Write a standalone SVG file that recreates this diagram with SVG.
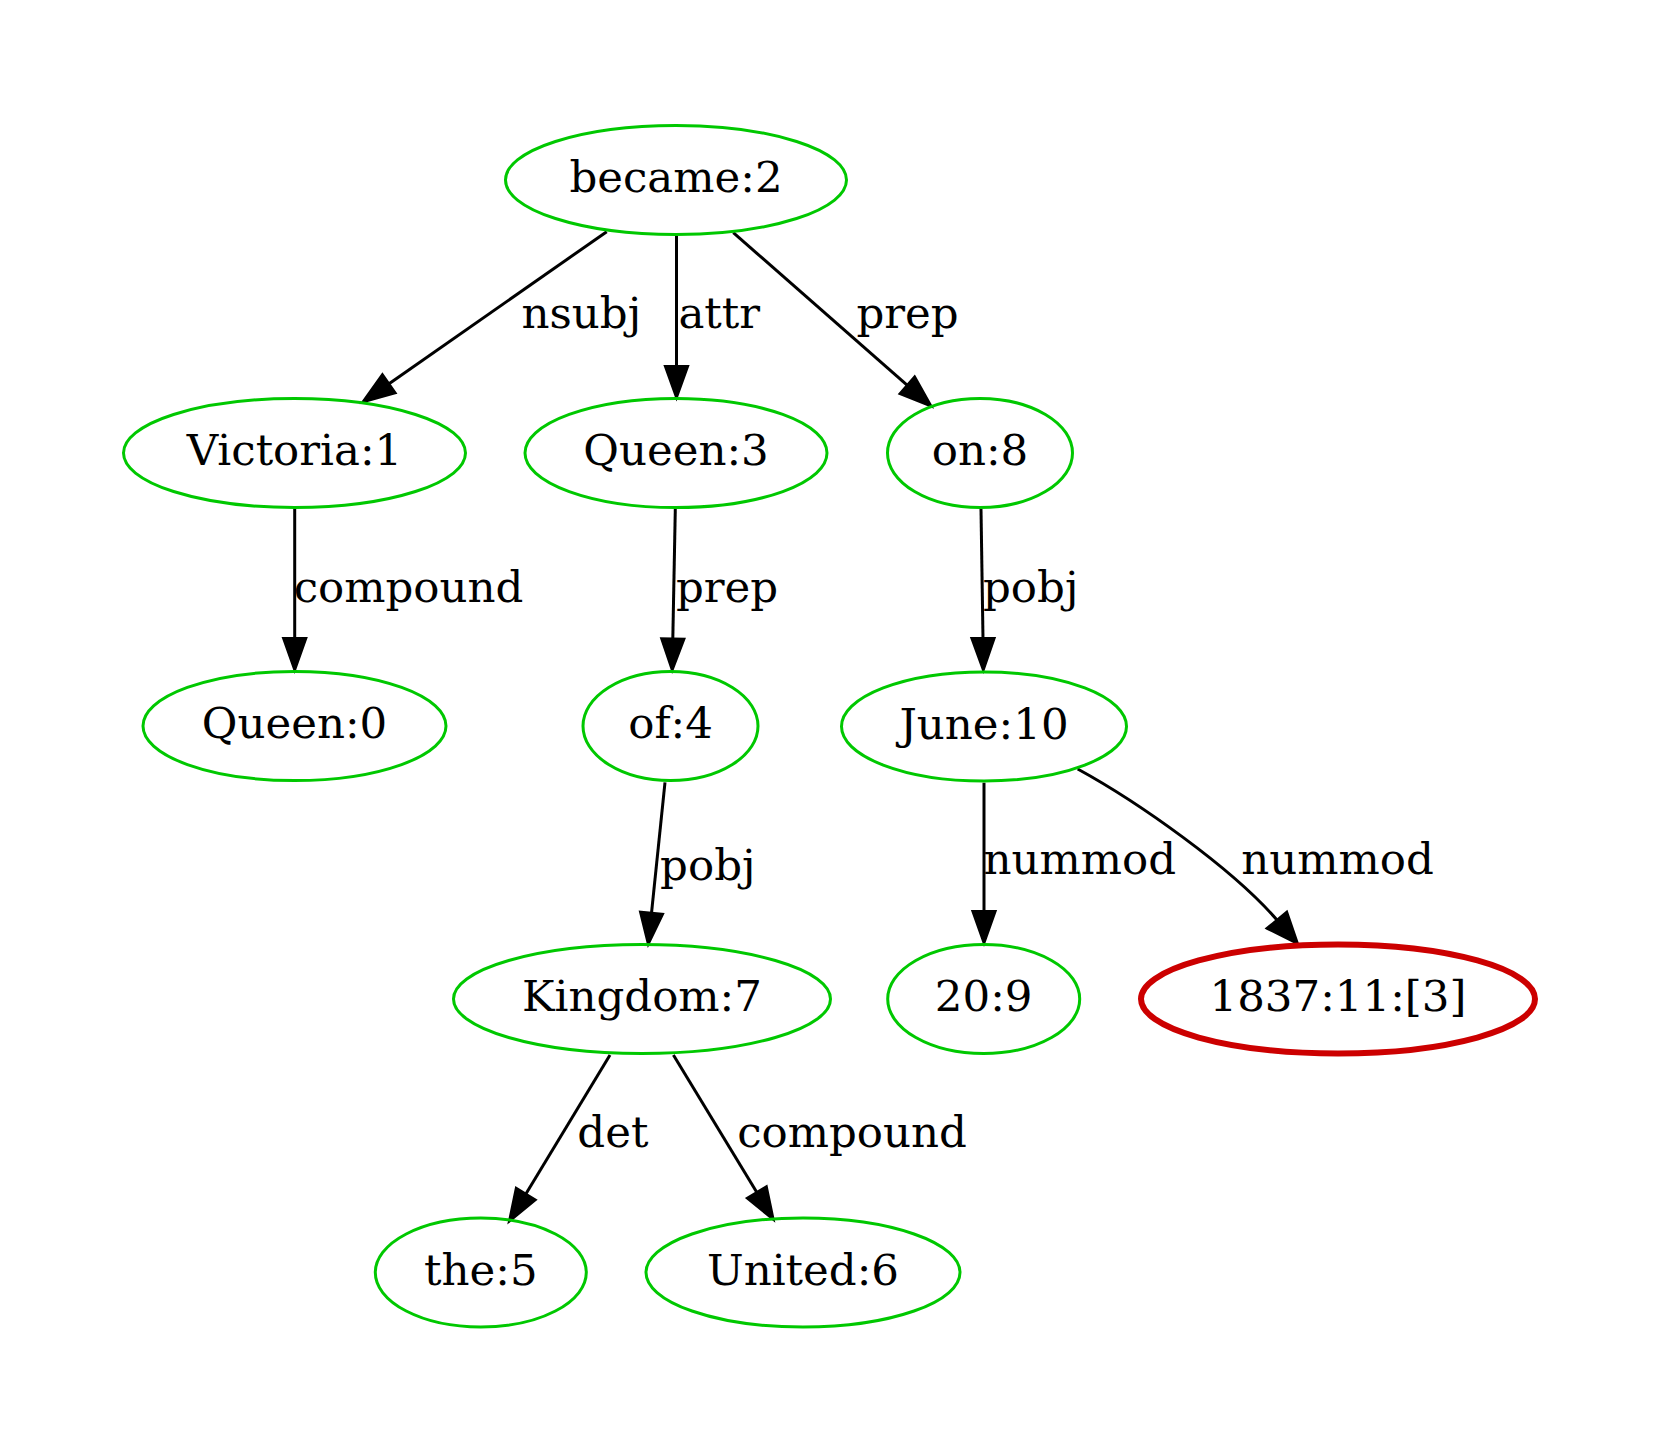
<svg xmlns="http://www.w3.org/2000/svg" width="1661" height="1453" viewBox="0 0 1661 1453">
<style>
.node ellipse{fill:none;stroke:#00c800;stroke-width:3}
.node.err ellipse{stroke:#cc0000;stroke-width:6}
text{font-family:"DejaVu Serif","Liberation Serif",serif;font-size:43.5px;fill:#000}
.node text{text-anchor:middle}
.edges text{text-anchor:middle}
.edges line,.edges path{fill:none;stroke:#000;stroke-width:3}
.edges polygon{fill:#000;stroke:#000;stroke-width:3;stroke-linejoin:miter}
</style>
<rect width="1661" height="1453" fill="#fff"/>
<g class="edges" id="edges">
<g id="e_became_victoria"><line x1="606.7" y1="231.7" x2="388.7" y2="383.9"/><polygon points="395,392.9 363.3,401.7 382.4,374.9"/><text x="581.3" y="328.3">nsubj</text></g>
<g id="e_became_queen3"><line x1="676.5" y1="236" x2="676.5" y2="367"/><polygon points="665.5,366.5 676.5,397 687.5,366.5"/><text x="719.3" y="328.3">attr</text></g>
<g id="e_became_on8"><line x1="733.3" y1="232.7" x2="907.4" y2="385.3"/><polygon points="914.6,377 930.7,405.7 900.2,393.6"/><text x="907.5" y="328.3">prep</text></g>
<g id="e_victoria_queen0"><line x1="294.7" y1="509" x2="294.7" y2="639"/><polygon points="283.7,638.5 294.7,669.5 305.7,638.5"/><text x="408.5" y="602">compound</text></g>
<g id="e_queen3_of4"><line x1="675.3" y1="509" x2="672.8" y2="639"/><polygon points="683.8,639.2 672.2,669.5 661.8,638.8"/><text x="727" y="602">prep</text></g>
<g id="e_on8_june10"><line x1="981" y1="509" x2="983" y2="639"/><polygon points="972,638.5 983.3,669.5 994,638.5"/><text x="1030.7" y="602">pobj</text></g>
<g id="e_of4_kingdom7"><line x1="665" y1="782.3" x2="651.5" y2="913.2"/><polygon points="662.4,914.3 648.3,943.5 640.6,912.1"/><text x="707.8" y="880">pobj</text></g>
<g id="e_june10_20"><line x1="984" y1="782.7" x2="984" y2="912"/><polygon points="973,911.5 984,942.5 995,911.5"/><text x="1079.8" y="874">nummod</text></g>
<g id="e_june10_1837"><path d="M1077.7,769 C1138,802 1232,868 1277,920"/><polygon points="1267.3,928.3 1297.3,943.3 1286.7,912.3"/><text x="1337.6" y="874">nummod</text></g>
<g id="e_kingdom7_the5"><line x1="610" y1="1055" x2="525.7" y2="1194.2"/><polygon points="535.1,1199.9 509.6,1220.7 516.3,1188.5"/><text x="612.9" y="1147">det</text></g>
<g id="e_kingdom7_united6"><line x1="673.4" y1="1055" x2="756.9" y2="1192.5"/><polygon points="766.3,1186.8 773,1219 747.5,1198.2"/><text x="852" y="1147">compound</text></g>
</g>
<g class="node" id="n_became2"><ellipse cx="676" cy="180" rx="170.5" ry="54.5"/><text x="676" y="192">became:2</text></g>
<g class="node" id="n_victoria1"><ellipse cx="294.5" cy="453" rx="171" ry="54.5"/><text x="294.5" y="465">Victoria:1</text></g>
<g class="node" id="n_queen3"><ellipse cx="676" cy="453" rx="151" ry="54.5"/><text x="676" y="465">Queen:3</text></g>
<g class="node" id="n_on8"><ellipse cx="980" cy="453" rx="92.5" ry="54.5"/><text x="980" y="465">on:8</text></g>
<g class="node" id="n_queen0"><ellipse cx="294.5" cy="726" rx="151.5" ry="54.5"/><text x="294.5" y="738">Queen:0</text></g>
<g class="node" id="n_of4"><ellipse cx="670.5" cy="726" rx="87.5" ry="54.5"/><text x="670.5" y="738">of:4</text></g>
<g class="node" id="n_june10"><ellipse cx="984" cy="726.5" rx="142.5" ry="54.5"/><text x="984" y="738.5">June:10</text></g>
<g class="node" id="n_kingdom7"><ellipse cx="642" cy="999" rx="188.5" ry="54.5"/><text x="642" y="1011">Kingdom:7</text></g>
<g class="node" id="n_209"><ellipse cx="983.7" cy="999" rx="96" ry="54.5"/><text x="983.7" y="1011">20:9</text></g>
<g class="node err" id="n_1837"><ellipse cx="1338" cy="999" rx="197" ry="54.5"/><text x="1338" y="1011">1837:11:[3]</text></g>
<g class="node" id="n_the5"><ellipse cx="480.8" cy="1272.5" rx="105.5" ry="54.5"/><text x="480.8" y="1284.5">the:5</text></g>
<g class="node" id="n_united6"><ellipse cx="803" cy="1272.5" rx="157" ry="54.5"/><text x="803" y="1284.5">United:6</text></g>
</svg>
